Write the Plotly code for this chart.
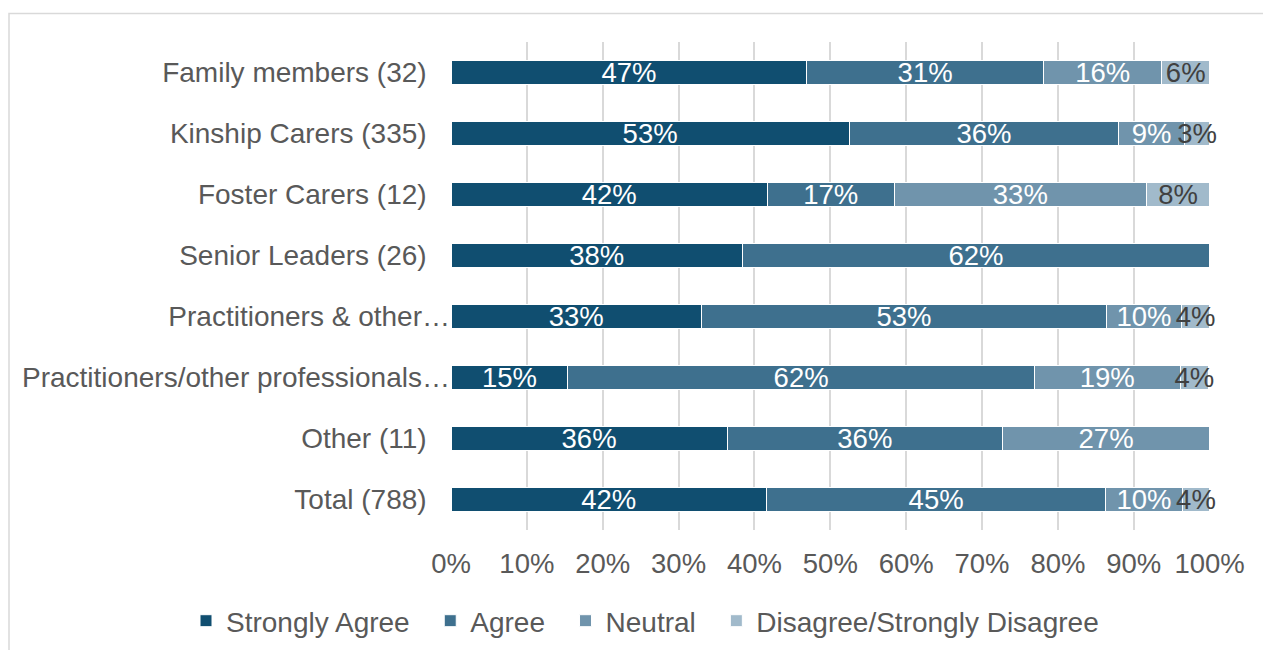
import plotly.graph_objects as go

categories = ["Family members (32)", "Kinship Carers (335)", "Foster Carers (12)",
              "Senior Leaders (26)", "Practitioners & other…",
              "Practitioners/other professionals…", "Other (11)", "Total (788)"]
strongly_agree = [46.9, 52.5, 41.7, 38.4, 33.0, 15.4, 36.4, 41.6]
agree = [31.2, 35.5, 16.7, 61.6, 53.4, 61.5, 36.3, 44.7]
neutral = [15.6, 8.7, 33.3, 0, 9.9, 19.2, 27.3, 10.1]
disagree = [6.3, 3.3, 8.3, 0, 3.7, 3.8, 0, 3.6]
x_ticks = list(range(0, 101, 10))
x_tick_labels = [f"{t}%" for t in x_ticks]

series = [
    ("Strongly Agree", strongly_agree, "#104E70", "white"),
    ("Agree", agree, "#3E708E", "white"),
    ("Neutral", neutral, "#7094AC", "white"),
    ("Disagree/Strongly Disagree", disagree, "#A1BACB", "#404040"),
]

FONT = "Arial, 'Liberation Sans', sans-serif"
L, R, T, B = 451, 53, 42, 120
W, H = 1263, 650
pw, ph = W - L - R, H - T - B
NB = "\u00a0"

# Excel lets truncated labels (with ellipsis) run up to the bar; others sit further left
y_ticktext = [c if c.endswith("…") else c + NB * 3 for c in categories]

fig = go.Figure()
for name, vals, color, tcolor in series:
    fig.add_trace(go.Bar(
        y=categories, x=vals, name=name + NB * 2, orientation="h",
        marker=dict(color=color, line=dict(color="white", width=1)),
        text=[f"{int(v + 0.5)}%" if v > 0 else "" for v in vals],
        textposition="inside", insidetextanchor="middle",
        constraintext="none", cliponaxis=False,
        textfont=dict(family=FONT, size=27.5, color=tcolor),
        hoverinfo="skip",
    ))

def px_x(p):
    return (p - L) / pw

def px_y(p):
    return (H - B - p) / ph

fig.update_layout(
    barmode="stack", bargap=0.6,
    width=W, height=H,
    margin=dict(l=L, r=R, t=T, b=B, autoexpand=False),
    paper_bgcolor="white", plot_bgcolor="white",
    font=dict(family=FONT, size=28, color="#595959"),
    xaxis=dict(range=[0, 100.05], tickvals=x_ticks, ticktext=x_tick_labels,
               showgrid=True, gridcolor="#D9D9D9", gridwidth=1.5,
               zeroline=False, showline=False, ticks="",
               ticklabelstandoff=14,
               tickfont=dict(family=FONT, size=27.5, color="#595959")),
    yaxis=dict(categoryorder="array", categoryarray=categories[::-1],
               tickvals=categories, ticktext=y_ticktext,
               showgrid=False, zeroline=False, showline=False, ticks="",
               ticklabelstandoff=0,
               tickfont=dict(family=FONT, size=28, color="#595959")),
    legend=dict(orientation="h", x=px_x(186), xanchor="left",
                y=px_y(621), yanchor="middle",
                font=dict(family=FONT, size=28, color="#595959"),
                traceorder="normal", itemwidth=30),
    shapes=[dict(type="rect", xref="paper", yref="paper",
                 x0=px_x(9), x1=px_x(1275), y0=px_y(13.5), y1=px_y(665),
                 line=dict(color="#D9D9D9", width=1.5), layer="below")],
)

fig.write_html("out.html", config={"displayModeBar": False},
               post_script="document.body.style.margin='0';document.body.style.padding='0';")
